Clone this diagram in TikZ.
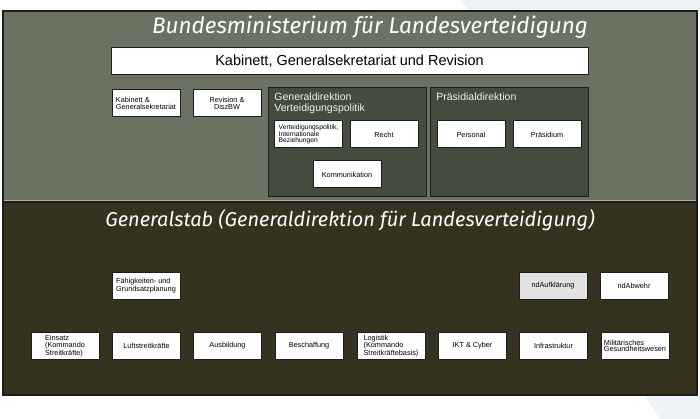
\documentclass[tikz,border=0pt]{standalone}
\usepackage{fontspec}
\setmainfont{Liberation Sans}
\newfontfamily\titlefont{Fira Sans}
\definecolor{bmlvtop}{HTML}{6C7262}
\definecolor{bmlvdir}{HTML}{444C3E}
\definecolor{gstab}{HTML}{35331F}
\definecolor{frame}{HTML}{1E1E18}
\definecolor{ndgray}{HTML}{E2E2E2}
\definecolor{backshade}{HTML}{EEF1F6}
\begin{document}
\begin{tikzpicture}
[x=1pt, y=-1pt, line width=0.8pt,
panel/.style={draw=frame, line width=1.2pt},
unit/.style={rectangle, draw=frame, fill=white, line width=1pt, inner sep=1pt, minimum width=68pt, minimum height=27pt, font=\fontsize{7.3}{6.7}\selectfont, align=left},
unitgray/.style={unit, fill=ndgray},
direktion/.style={rectangle, draw=frame, fill=bmlvdir, line width=1pt, minimum width=158pt, minimum height=109pt},
dirtitle/.style={anchor=north west, inner sep=0pt, text=white!90!gray, font=\fontsize{10.5}{11}\selectfont, align=left},
paneltitle/.style={text=white, font=\titlefont\itshape\fontsize{21}{21}\selectfont}]

\useasboundingbox (0,0) rectangle (700,419);

% background shading
\fill[backshade] (460,0) -- (700,0) -- (700,11) -- (470,11) -- cycle;
\fill[backshade] (645,396) -- (700,396) -- (700,419) -- (660,419) -- cycle;

% panels
\fill[bmlvtop] (3,11) rectangle (697,202);
\fill[gstab] (3,202) rectangle (697,395);
\draw[panel] (3,11) rectangle (697,202);
\draw[panel] (3,202) rectangle (697,395);
\draw[gray!60, line width=1pt] (4,200.5) -- (696,200.5);

\node[paneltitle, font=\titlefont\itshape\fontsize{22.5}{22}\selectfont] (bmlv) at (370,27) {Bundesministerium für Landesverteidigung};
\node[paneltitle, font=\titlefont\itshape\fontsize{20}{20}\selectfont] (gs) at (350,220) {Generalstab (Generaldirektion für Landesverteidigung)};

% ministry
\node[unit, minimum width=477pt, font=\fontsize{14.5}{15}\selectfont] (kgr) at (349.5,61.5) {Kabinett, Generalsekretariat und Revision};
\node[unit] (kgs) at (146,103.5) {Kabinett \&\\Generalsekretariat};
\node[unit, align=center] (rev) at (227,103.5) {Revision \&\\DiszBW};

\node[direktion] (gdvp) at (347,142.5) {};
\node[direktion] (pd) at (509,142.5) {};
\node[dirtitle] (gdvpt) at (274,92) {Generaldirektion\\Verteidigungspolitik};
\node[dirtitle] (pdt) at (436,92) {Präsidialdirektion};

\node[unit, font=\fontsize{6.7}{6.2}\selectfont] (vp) at (308.5,134.5) {Verteidigungspolitik,\\Internationale\\Beziehungen};
\node[unit] (recht) at (384,134.5) {Recht};
\node[unit] (komm) at (347,174.5) {Kommunikation};
\node[unit] (pers) at (471,134.5) {Personal};
\node[unit] (praes) at (547,134.5) {Präsidium};

% general staff
\node[unit] (faeh) at (146,285.5) {Fähigkeiten- und\\Grundsatzplanung};
\node[unitgray] (ndauf) at (553,285.5) {ndAufklärung};
\node[unit] (ndabw) at (634,285.5) {ndAbwehr};

\node[unit] (eins) at (65,346) {Einsatz\\(Kommando\\Streitkräfte)};
\node[unit] (luft) at (146.5,346) {Luftstreitkräfte};
\node[unit] (ausb) at (227.5,346) {Ausbildung};
\node[unit] (besch) at (309,346) {Beschaffung};
\node[unit] (log) at (391,346) {Logistik\\(Kommando\\Streitkräftebasis)};
\node[unit] (ikt) at (472.5,346) {IKT \& Cyber};
\node[unit] (infra) at (553.5,346) {Infrastruktur};
\node[unit] (milg) at (635,346) {Militärisches\\Gesundheitswesen};
\end{tikzpicture}
\end{document}
